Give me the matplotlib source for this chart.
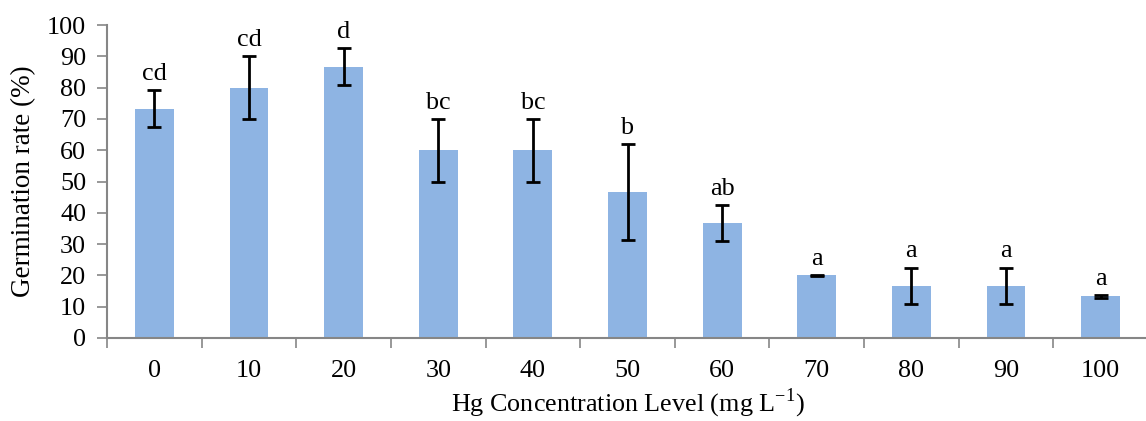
import matplotlib
matplotlib.use("Agg")
import matplotlib.pyplot as plt
import numpy as np

# Hg concentration levels (mg/L) and germination rate (%)
levels = ["0", "10", "20", "30", "40", "50", "60", "70", "80", "90", "100"]
rate = [73.3, 80.0, 86.7, 60.0, 60.0, 46.7, 36.7, 20.0, 16.7, 16.7, 13.3]
err = [5.8, 10.0, 6.0, 10.0, 10.0, 15.3, 5.8, 0.1, 5.8, 5.8, 0.4]
letters = ["cd", "cd", "d", "bc", "bc", "b", "ab", "a", "a", "a", "a"]

BAR_COLOR = "#8EB4E3"
AXIS_COLOR = "#868686"
FS = 18.8

plt.rcParams["font.family"] = ["Liberation Serif", "DejaVu Serif"]
plt.rcParams["mathtext.fontset"] = "custom"
plt.rcParams["mathtext.rm"] = "Liberation Serif"

fig = plt.figure(figsize=(11.46, 4.21), dpi=100)
ax = fig.add_axes([107 / 1146, 83 / 421, (1148 - 107) / 1146, 313 / 421])

x = np.arange(len(levels))
ax.bar(x, rate, width=0.41, color=BAR_COLOR, zorder=2)
ax.errorbar(x, rate, yerr=err, fmt="none", ecolor="black", elinewidth=2,
            capsize=4.7, capthick=2, zorder=3)

# significance letters above the error bars
for xi, r, e, lab in zip(x, rate, err, letters):
    ax.text(xi, r + e + 3.3, lab, ha="center", va="baseline", fontsize=FS)

ax.set_xlim(-0.5, len(levels) - 0.5)
ax.set_ylim(0, 100)
ax.set_yticks(np.arange(0, 101, 10))

# category boundary ticks, labels centred on bars
ax.set_xticks(np.arange(-0.5, len(levels), 1.0))
ax.set_xticklabels([])
ax.set_xticks(x, minor=True)
ax.set_xticklabels(levels, minor=True)
ax.tick_params(axis="x", which="major", direction="out", length=7,
               width=1.2, color=AXIS_COLOR)
ax.tick_params(axis="x", which="minor", length=0, pad=16, labelsize=FS)
ax.tick_params(axis="y", direction="out", length=7, width=1.2,
               color=AXIS_COLOR, pad=8, labelsize=FS)

for side in ["top", "right"]:
    ax.spines[side].set_visible(False)
for side in ["left", "bottom"]:
    ax.spines[side].set_color(AXIS_COLOR)
    ax.spines[side].set_linewidth(1.5)

ax.set_ylabel("Germination rate (%)", fontsize=19.5, labelpad=8)
ax.set_xlabel(r"Hg Concentration Level (mg L$^{\mathrm{-1}}$)", fontsize=FS,
              labelpad=3)

fig.savefig("out.png", dpi=100)
